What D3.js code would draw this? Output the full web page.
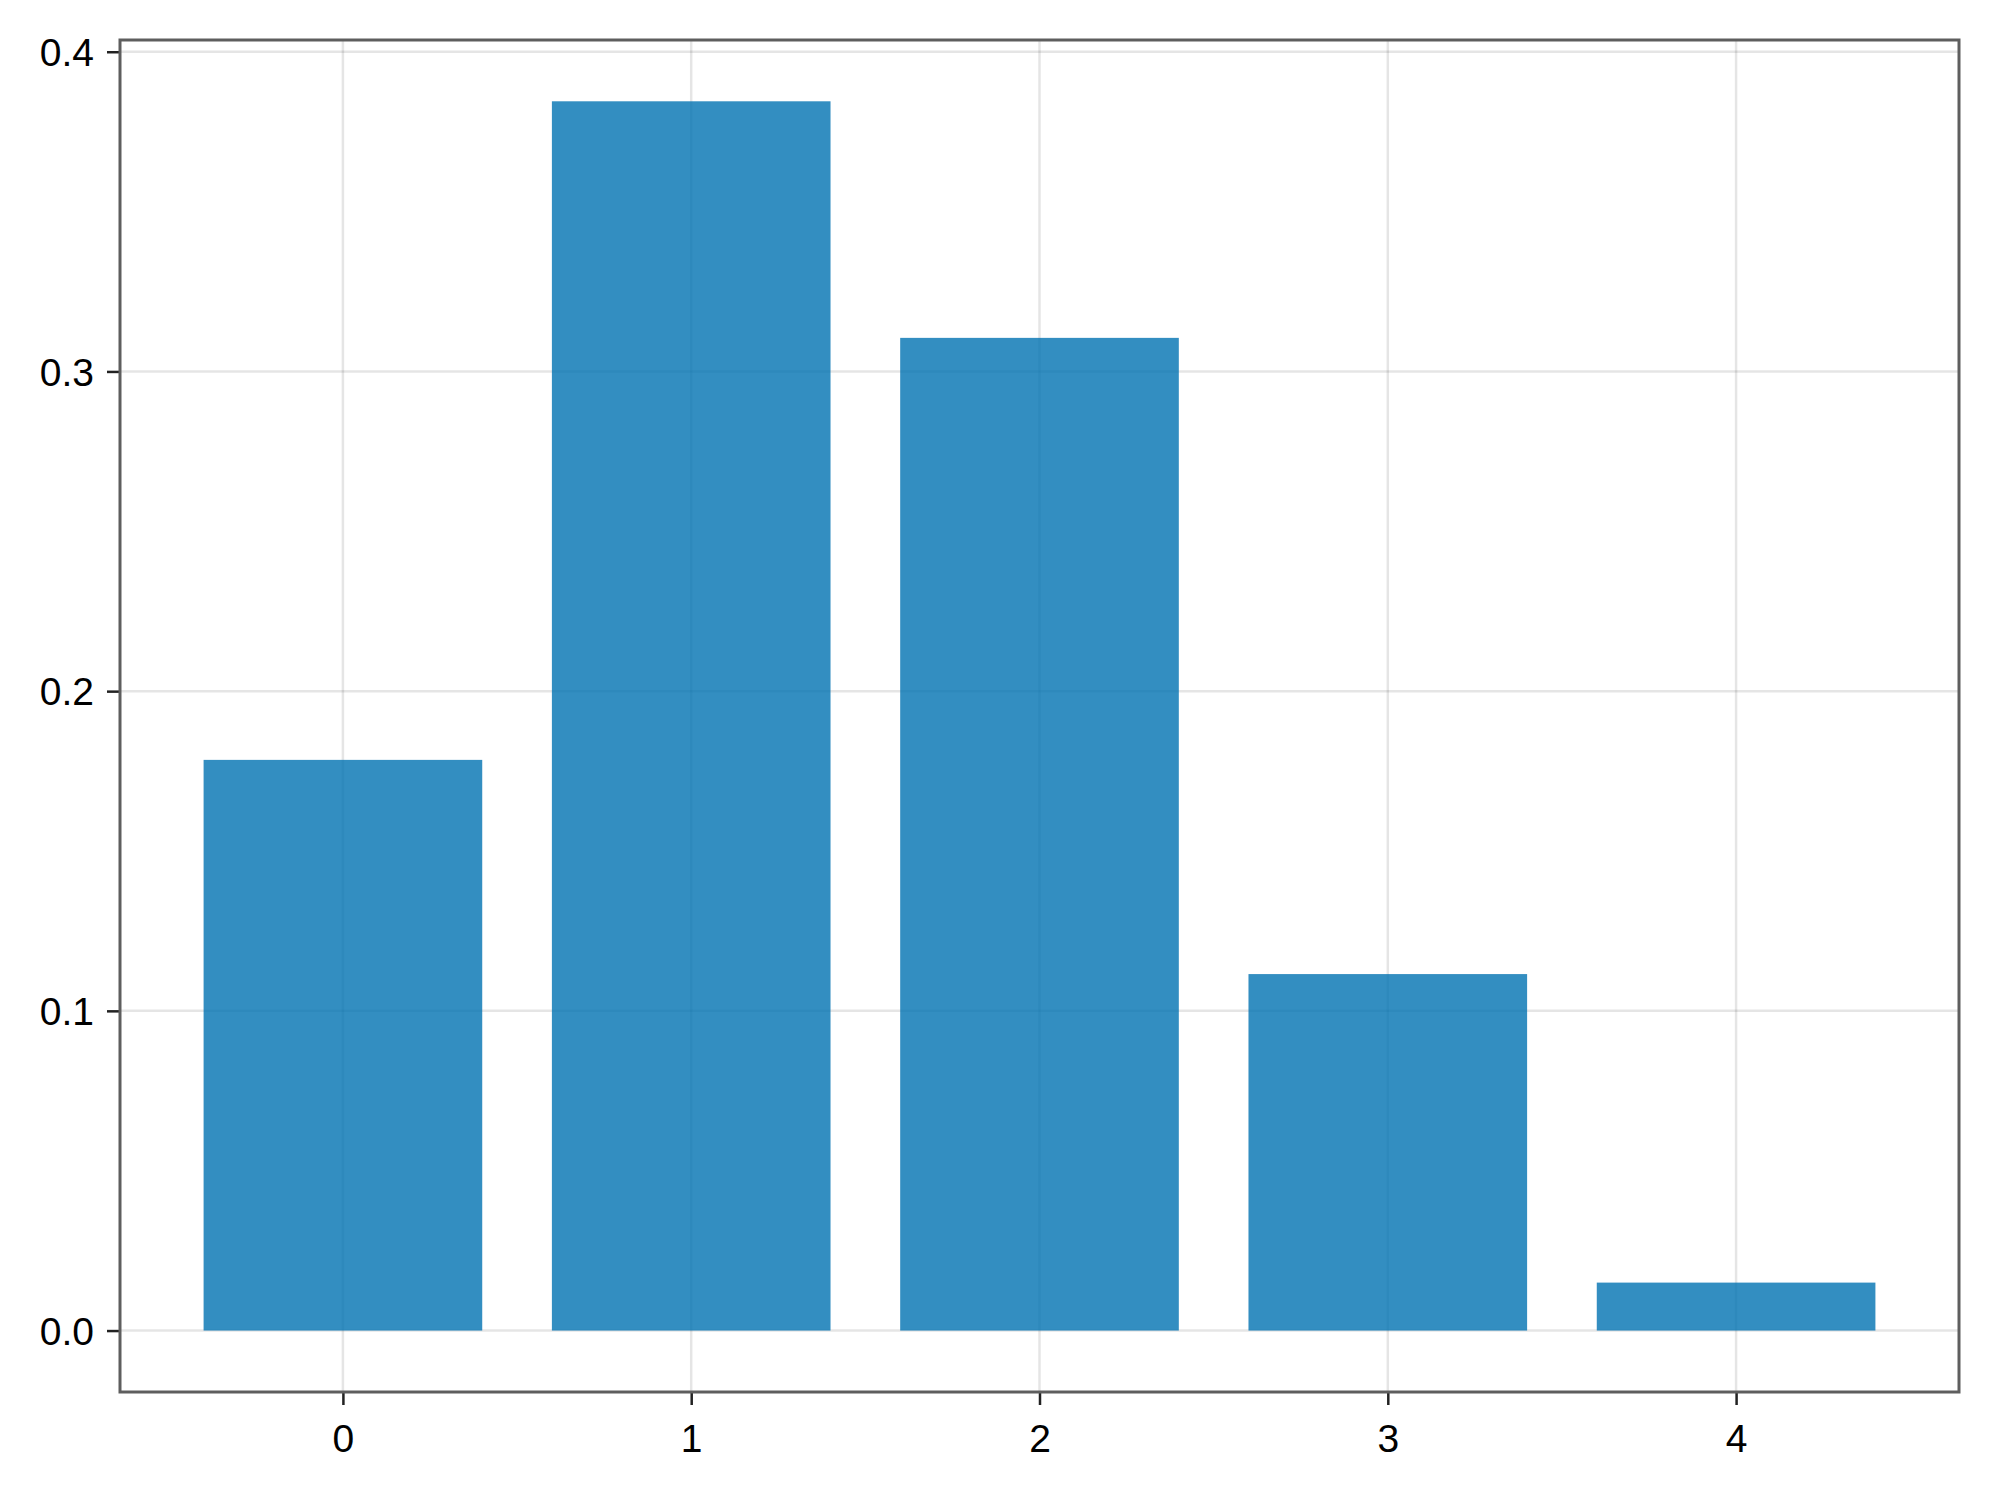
<!DOCTYPE html>
<html>
<head>
<meta charset="utf-8">
<script src="https://d3js.org/d3.v7.min.js"></script>
<style>
  html, body { margin: 0; padding: 0; background: #fff; }
  svg { display: block; }
  text { font-family: "Liberation Sans", Arial, sans-serif; }
</style>
</head>
<body>
<svg id="chart" width="2000" height="1500"></svg>
<script>
const categories = [0, 1, 2, 3, 4];
const values = [0.1785, 0.3845, 0.3105, 0.1115, 0.0150];
const yTicks = [0.0, 0.1, 0.2, 0.3, 0.4];
const xTicks = [0, 1, 2, 3, 4];

(function () {
const svg = d3.select("#chart");
const pL = 120, pR = 1959, pT = 40, pB = 1392;

const x = d3.scaleLinear().domain([-0.64, 4.64]).range([pL, pR]);
const y = d3.scaleLinear().domain([-0.01922, 0.40367]).range([pB, pT]);
const barW = 0.8;

// grid
const grid = svg.append("g");
grid.selectAll("line.gx").data(xTicks).join("line").attr("class", "gx")
  .attr("x1", d => x(d)).attr("x2", d => x(d))
  .attr("y1", pT).attr("y2", pB)
  .attr("stroke", "rgba(0,0,0,0.10)").attr("stroke-width", 2.5);
grid.selectAll("line.gy").data(yTicks).join("line").attr("class", "gy")
  .attr("x1", pL).attr("x2", pR)
  .attr("y1", d => y(d)).attr("y2", d => y(d))
  .attr("stroke", "rgba(0,0,0,0.10)").attr("stroke-width", 2.5);

// bars
svg.append("g").selectAll("rect").data(categories).join("rect")
  .attr("x", (d) => x(d - barW / 2))
  .attr("width", (d) => x(d + barW / 2) - x(d - barW / 2))
  .attr("y", (d, i) => y(values[i]))
  .attr("height", (d, i) => y(0) - y(values[i]))
  .attr("fill", "#0072B2").attr("fill-opacity", 0.8);

// axes
const xAxis = d3.axisBottom(x).tickValues(xTicks).tickFormat(d3.format("d"))
  .tickSize(13).tickPadding(19);
const gx = svg.append("g").attr("transform", `translate(0,${pB})`).call(xAxis);
const yAxis = d3.axisLeft(y).tickValues(yTicks).tickFormat(d3.format(".1f"))
  .tickSize(13).tickPadding(13);
const gy = svg.append("g").attr("transform", `translate(${pL},0)`).call(yAxis);
[gx, gy].forEach(g => {
  g.select(".domain").remove();
  g.selectAll(".tick line").attr("stroke", "#222").attr("stroke-width", 2.5);
  g.selectAll(".tick text").attr("fill", "#000").attr("font-size", 39)
    .style("font-family", "'Liberation Sans', Arial, sans-serif");
});
gy.selectAll(".tick text").attr("dy", "0.35em");

// frame
svg.append("rect")
  .attr("x", pL).attr("y", pT)
  .attr("width", pR - pL).attr("height", pB - pT)
  .attr("fill", "none").attr("stroke", "#5e5e5e").attr("stroke-width", 3);
})();
</script>
</body>
</html>
